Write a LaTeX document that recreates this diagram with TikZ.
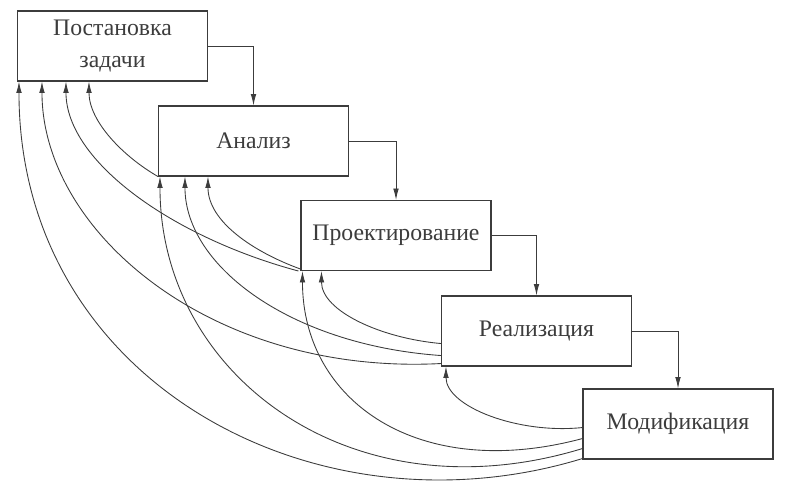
\documentclass[tikz,border=0pt]{standalone}
\usepackage{fontspec}
\setmainfont{Liberation Serif}
\usetikzlibrary{arrows.meta}
\definecolor{ink}{RGB}{60,60,60}

\begin{document}
\begin{tikzpicture}[>={Latex[length=6.5pt,width=3.2pt]},
  stage/.style={draw=ink, text=ink, line width=0.6pt, inner sep=0pt,
    minimum width=3.8cm, minimum height=1.4cm, align=center,
    font=\fontsize{13.5}{18.5}\selectfont},
  next/.style={->, draw=ink, line width=0.5pt},
  back/.style={->, draw=ink, line width=0.5pt}]
\useasboundingbox (0,0) rectangle (15.76,-9.98);
\node[stage] (b1) at (2.25,-0.92) {Постановка\\задачи};
\node[stage] (b2) at (5.07,-2.82) {Анализ};
\node[stage] (b3) at (7.92,-4.71) {Проектирование};
\node[stage] (b4) at (10.73,-6.62) {Реализация};
\node[stage] (b5) at (13.56,-8.48) {Модификация};
\draw[next] (b1.east) -| (b2.north);
\draw[next] (b2.east) -| (b3.north);
\draw[next] (b3.east) -| (b4.north);
\draw[next] (b4.east) -| (b5.north);
% returns to earlier stages
\draw[back] (b2.south west) to[out=150, in=-90, out distance=0.8cm, in distance=0.8cm] ([xshift=1.44cm]b1.south west);
\draw[back] ([yshift=0.04cm]b3.south west) to[out=160, in=-90, out distance=1.0cm, in distance=0.9cm] ([xshift=1.0cm]b2.south west);
\draw[back] ([xshift=-0.04cm]b3.south west) to[out=165, in=-90, out distance=2.6cm, in distance=1.6cm] ([xshift=0.98cm]b1.south west);
\draw[back] ([yshift=0.46cm]b4.south west) to[out=175, in=-90, out distance=1.2cm, in distance=0.8cm] ([xshift=0.42cm]b3.south west);
\draw[back] ([yshift=0.22cm]b4.south west) to[out=176, in=-90, out distance=3.0cm, in distance=1.8cm] ([xshift=0.54cm]b2.south west);
\draw[back] ([yshift=0.06cm]b4.south west) to[out=183, in=-90, out distance=4.6cm, in distance=3.0cm] ([xshift=0.5cm]b1.south west);
\draw[back] ([yshift=0.64cm]b5.south west) to[out=186, in=-90, out distance=1.3cm, in distance=0.8cm] ([xshift=0.1cm]b4.south west);
\draw[back] ([yshift=0.42cm]b5.south west) to[out=195, in=-90, out distance=3.4cm, in distance=2.6cm] ([xshift=0.04cm]b3.south west);
\draw[back] ([yshift=0.22cm]b5.south west) to[out=197, in=-90, out distance=4.8cm, in distance=4.0cm] ([xshift=0.04cm]b2.south west);
\draw[back] ([yshift=0.02cm]b5.south west) to[out=197, in=-90, out distance=5.6cm, in distance=6.0cm] ([xshift=0.04cm]b1.south west);
\end{tikzpicture}
\end{document}
